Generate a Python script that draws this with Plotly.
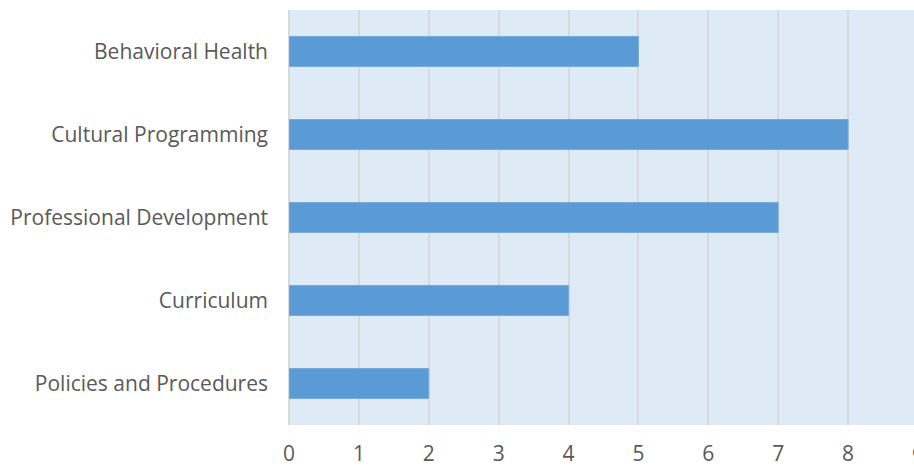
import plotly.graph_objects as go

categories = ["Behavioral Health", "Cultural Programming", "Professional Development",
              "Curriculum", "Policies and Procedures"]
values = [5, 8, 7, 4, 2]
x_ticks = [0, 1, 2, 3, 4, 5, 6, 7, 8, 9]

XMAX = 8.943
FONT = dict(family="Open Sans", size=21, color="#595959")

fig = go.Figure(go.Bar(
    y=categories, x=values, orientation="h",
    marker=dict(color="#5B9BD5", line=dict(color="#74ABDD", width=1)),
))

fig.update_layout(
    width=914, height=468,
    margin=dict(l=289, r=0, t=10, b=43, autoexpand=False),
    paper_bgcolor="white", plot_bgcolor="#DEEAF6",
    bargap=0.64, showlegend=False,
    font=FONT,
    xaxis=dict(range=[0, XMAX], tickvals=x_ticks[:-1], showgrid=True,
               gridcolor="#D9D9D9", gridwidth=2, zeroline=True,
               zerolinecolor="#D9D9D9", zerolinewidth=2, showline=False,
               ticks="", ticklabelstandoff=14, tickfont=FONT, fixedrange=True,
               automargin=False),
    yaxis=dict(categoryorder="array", categoryarray=categories[::-1],
               showgrid=False, zeroline=False, showline=False, ticks="",
               ticklabelstandoff=20, tickfont=FONT, fixedrange=True,
               automargin=False),
)

fig.add_annotation(text=str(x_ticks[-1]), xref="paper", yref="paper",
                   x=x_ticks[-1] / XMAX, y=0, xanchor="center", yanchor="top",
                   yshift=-14, showarrow=False, font=FONT)

fig.write_html("out.html")
